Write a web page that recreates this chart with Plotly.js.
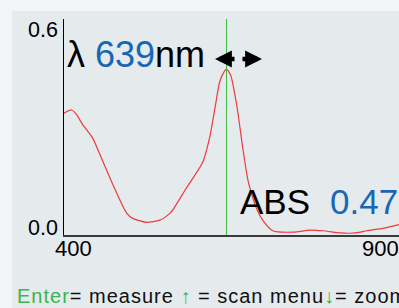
<!DOCTYPE html>
<html>
<head>
<meta charset="utf-8">
<script src="https://cdn.plot.ly/plotly-3.0.1.min.js"></script>
<style>
html,body{margin:0;padding:0;overflow:hidden;background:#f3f5f7;}
#chart{width:404px;height:308px;}
</style>
</head>
<body>
<div id="chart"></div>
<script>
// ---- data ----
const wavelength = [400,411,418,428,442,457,472,492,501,521,541,556,560,580,604,614,622,629,636,639,645,654,663,671,683,693,707,737,762,781,806,821,836,845,869,890,900];
const absorbance = [0.345,0.354,0.342,0.311,0.275,0.209,0.142,0.062,0.047,0.036,0.042,0.062,0.071,0.133,0.206,0.274,0.359,0.434,0.464,0.470,0.453,0.368,0.245,0.151,0.076,0.040,0.012,0.008,0.014,0.012,0.006,0.005,0.008,0.012,0.019,0.028,0.032];
const peakWavelength = 639;
const peakAbs = 0.47;
const xTickVals = [400, 900];
const xTickText = ['400', '900'];
const yTickVals = [0, 0.6];
const yTickText = ['0.0', '0.6'];
const footerParts = ['Enter', '= measure ', '\u2191', ' = scan menu', '\u2193', '= zoom'];

// ---- styling ----
const FONT = 'Liberation Sans, Arial, sans-serif';
const BLUE = '#1767b5';
const GREEN = '#3cb54a';
const L = 64, T = 19, W = 404, H = 308, B = 73;
const PW = W - L, PH = H - T - B;
const px2x = p => (p - L) / PW;
const py2y = p => (T + PH - p) / PH;

const annotations = [];
// title line
annotations.push({xref:'paper', yref:'paper', x:px2x(65), y:py2y(55), xanchor:'left', yanchor:'middle',
  showarrow:false, text:'λ <span style="color:' + BLUE + '">' + peakWavelength + '</span>nm',
  font:{family:FONT, size:36, color:'#000'}});
// arrows
annotations.push({xref:'paper', yref:'paper', x:px2x(215), y:py2y(59), ax:21, ay:0, text:'', showarrow:true,
  arrowhead:2, arrowsize:0.75, arrowwidth:4.5, arrowcolor:'#000'});
annotations.push({xref:'paper', yref:'paper', x:px2x(262), y:py2y(59), ax:-21, ay:0, text:'', showarrow:true,
  arrowhead:2, arrowsize:0.75, arrowwidth:4.5, arrowcolor:'#000'});
// ABS value
annotations.push({xref:'paper', yref:'paper', x:px2x(237.5), y:py2y(201.5), xanchor:'left', yanchor:'middle',
  showarrow:false, text:'ABS', font:{family:FONT, size:35, color:'#000'}});
annotations.push({xref:'paper', yref:'paper', x:px2x(328), y:py2y(201.5), xanchor:'left', yanchor:'middle',
  showarrow:false, text:peakAbs.toFixed(2), font:{family:FONT, size:35, color:BLUE}});
// footer
const footerText = '<span style="letter-spacing:1px">' +
  '<span style="color:' + GREEN + '">' + footerParts[0] + '</span>' + footerParts[1] +
  '<b><span style="color:' + GREEN + '">' + footerParts[2] + '</span></b>' + footerParts[3] +
  '<b><span style="color:' + GREEN + '">' + footerParts[4] + '</span></b>' + footerParts[5] + '</span>';
annotations.push({xref:'paper', yref:'paper', x:px2x(15), y:py2y(295.5), xanchor:'left', yanchor:'middle',
  showarrow:false, text:footerText, font:{family:FONT, size:20, color:'#111'}});
// x tick labels
const xShift = [9.8, -23.5];
xTickVals.forEach((v, i) => annotations.push({xref:'x', yref:'paper', x:v, y:py2y(248), xanchor:'center', yanchor:'middle',
  xshift:xShift[i], showarrow:false, text:xTickText[i], font:{family:FONT, size:22, color:'#000'}}));
// y tick labels
const yShift = [6.6, -7.4];
yTickVals.forEach((v, i) => annotations.push({xref:'paper', yref:'y', x:px2x(60), y:v, xanchor:'right', yanchor:'middle',
  yshift:yShift[i], showarrow:false, text:yTickText[i], font:{family:FONT, size:21.5, color:'#000'}}));

const data = [{
  x: wavelength, y: absorbance, type:'scatter', mode:'lines',
  line:{color:'#ee3a3a', width:1.2, shape:'spline', smoothing:0.6},
  hoverinfo:'skip'
}];

const layout = {
  width: W, height: H,
  margin:{l:L, r:0, t:T, b:B, pad:0},
  paper_bgcolor:'#f3f5f7',
  plot_bgcolor:'rgba(0,0,0,0)',
  showlegend:false,
  xaxis:{range:[400,900], showline:true, linecolor:'#3a3a3a', linewidth:1.5, showgrid:false, zeroline:false,
    showticklabels:false, ticks:'', fixedrange:true},
  yaxis:{range:[0, PH/353.2], showline:true, linecolor:'#000', linewidth:1.5, showgrid:false, zeroline:false,
    showticklabels:false, ticks:'', fixedrange:true},
  shapes:[
    {type:'rect', xref:'paper', yref:'paper', x0:px2x(12), x1:px2x(410), y0:py2y(320), y1:py2y(11),
      fillcolor:'#e5eaed', line:{width:0}, layer:'below'},
    {type:'line', xref:'x', yref:'paper', x0:peakWavelength, x1:peakWavelength, y0:0, y1:1,
      line:{color:'#3dbb3d', width:1}}
  ],
  annotations: annotations
};

Plotly.newPlot('chart', data, layout, {staticPlot:true, displayModeBar:false});
</script>
</body>
</html>
